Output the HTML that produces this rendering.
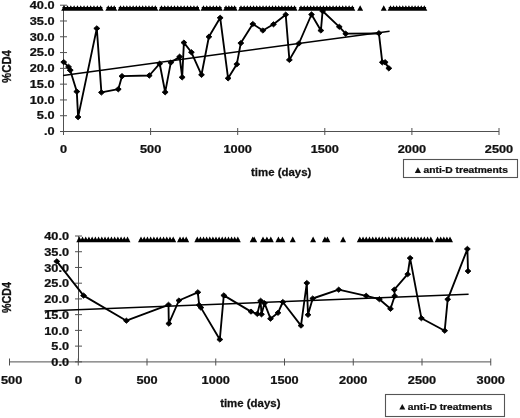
<!DOCTYPE html><html><head><meta charset="utf-8"><style>
html,body{margin:0;padding:0;background:#fff;}
svg{display:block;filter:grayscale(1);}
text{font-family:"Liberation Sans",sans-serif;font-weight:bold;fill:#111;stroke:#111;stroke-width:0.25px;}
</style></head><body>
<svg width="520" height="418" viewBox="0 0 520 418">
<rect width="520" height="418" fill="#fff"/>
<g stroke="#505050" stroke-width="1" fill="none">
<path d="M63.5 5.2V131.5"/>
<path d="M63.5 131.5H499.00"/>
<path d="M60 5.20H67"/>
<path d="M60 20.99H67"/>
<path d="M60 36.78H67"/>
<path d="M60 52.57H67"/>
<path d="M60 68.36H67"/>
<path d="M60 84.15H67"/>
<path d="M60 99.94H67"/>
<path d="M60 115.73H67"/>
<path d="M60 131.52H67"/>
<path d="M63.50 128V135"/>
<path d="M150.60 128V135"/>
<path d="M237.70 128V135"/>
<path d="M324.80 128V135"/>
<path d="M411.90 128V135"/>
<path d="M499.00 128V135"/>
</g>
<text transform="translate(54.50 8.95) scale(1.18 1)" text-anchor="end" font-size="10.8" >40.0</text>
<text transform="translate(54.50 24.74) scale(1.18 1)" text-anchor="end" font-size="10.8" >35.0</text>
<text transform="translate(54.50 40.53) scale(1.18 1)" text-anchor="end" font-size="10.8" >30.0</text>
<text transform="translate(54.50 56.32) scale(1.18 1)" text-anchor="end" font-size="10.8" >25.0</text>
<text transform="translate(54.50 72.11) scale(1.18 1)" text-anchor="end" font-size="10.8" >20.0</text>
<text transform="translate(54.50 87.90) scale(1.18 1)" text-anchor="end" font-size="10.8" >15.0</text>
<text transform="translate(54.50 103.69) scale(1.18 1)" text-anchor="end" font-size="10.8" >10.0</text>
<text transform="translate(54.50 119.48) scale(1.18 1)" text-anchor="end" font-size="10.8" >5.0</text>
<text transform="translate(54.50 135.27) scale(1.18 1)" text-anchor="end" font-size="10.8" >.0</text>
<text transform="translate(63.50 153.10) scale(1.18 1)" text-anchor="middle" font-size="10.8" >0</text>
<text transform="translate(150.60 153.10) scale(1.18 1)" text-anchor="middle" font-size="10.8" >500</text>
<text transform="translate(237.70 153.10) scale(1.18 1)" text-anchor="middle" font-size="10.8" >1000</text>
<text transform="translate(324.80 153.10) scale(1.18 1)" text-anchor="middle" font-size="10.8" >1500</text>
<text transform="translate(411.90 153.10) scale(1.18 1)" text-anchor="middle" font-size="10.8" >2000</text>
<text transform="translate(499.00 153.10) scale(1.18 1)" text-anchor="middle" font-size="10.8" >2500</text>
<text transform="translate(281.20 176.30) scale(1.06 1)" text-anchor="middle" font-size="10.8" >time (days)</text>
<text transform="translate(10.6 66.5) rotate(-90) scale(1 1.18)" text-anchor="middle" font-size="11.4">%CD4</text>
<rect x="403.5" y="159.5" width="114" height="18" fill="none" stroke="#555" stroke-width="1.1"/>
<path d="M414.8 173L417.9 167.2L421 173Z" fill="#111"/>
<text transform="translate(423.60 173.30) scale(1.18 1)" text-anchor="start" font-size="8.7" >anti-D treatments</text>
<path d="M63 75.4L389.6 31.3" stroke="#000" stroke-width="1.5" fill="none"/>
<path d="M63.7 62.1L68.6 66.9L70.2 70.2L76.8 91.6L78.1 117.1L96.8 28.4L101.4 92.4L118.3 89.2L122 76.2L149.3 75.5L159.7 63.7L165.2 92.2L170.8 62.6L179.6 56.7L182.2 77.3L183.9 42.6L191.4 52.3L201.5 74.8L208.9 36.8L220.2 17.8L228.1 78.3L236.8 64.2L240.8 43.1L252.8 24L262.9 30.5L273.5 24.3L285.7 14.7L289.4 59.9L298.9 43.5L311.5 14.5L320.9 30.5L322.6 11L339.3 26.8L345.7 33.7L378.9 33.3L382.3 62.3L385.1 62.3L388.8 68.3" stroke="#000" stroke-width="1.85" fill="none" stroke-linejoin="round"/>
<path d="M63.7 59.5L66.7 62.1L63.7 64.8L60.8 62.1ZM68.6 64.2L71.5 66.9L68.6 69.6L65.6 66.9ZM70.2 67.5L73.2 70.2L70.2 72.9L67.2 70.2ZM76.8 88.9L79.8 91.6L76.8 94.2L73.8 91.6ZM78.1 114.4L81.0 117.1L78.1 119.8L75.1 117.1ZM96.8 25.8L99.8 28.4L96.8 31.0L93.8 28.4ZM101.4 89.8L104.4 92.4L101.4 95.1L98.5 92.4ZM118.3 86.5L121.2 89.2L118.3 91.9L115.3 89.2ZM122.0 73.5L125.0 76.2L122.0 78.9L119.0 76.2ZM149.3 72.8L152.2 75.5L149.3 78.2L146.4 75.5ZM159.7 61.1L162.6 63.7L159.7 66.4L156.8 63.7ZM165.2 89.5L168.1 92.2L165.2 94.9L162.2 92.2ZM170.8 60.0L173.8 62.6L170.8 65.2L167.9 62.6ZM179.6 54.1L182.5 56.7L179.6 59.4L176.7 56.7ZM182.2 74.6L185.1 77.3L182.2 80.0L179.2 77.3ZM183.9 40.0L186.8 42.6L183.9 45.2L181.0 42.6ZM191.4 49.6L194.3 52.3L191.4 54.9L188.5 52.3ZM201.5 72.1L204.4 74.8L201.5 77.5L198.6 74.8ZM208.9 34.1L211.8 36.8L208.9 39.4L206.0 36.8ZM220.2 15.2L223.1 17.8L220.2 20.4L217.2 17.8ZM228.1 75.6L231.0 78.3L228.1 81.0L225.2 78.3ZM236.8 61.6L239.8 64.2L236.8 66.9L233.9 64.2ZM240.8 40.5L243.8 43.1L240.8 45.8L237.9 43.1ZM252.8 21.4L255.8 24.0L252.8 26.6L249.9 24.0ZM262.9 27.9L265.8 30.5L262.9 33.1L259.9 30.5ZM273.5 21.7L276.4 24.3L273.5 26.9L270.6 24.3ZM285.7 12.0L288.6 14.7L285.7 17.3L282.8 14.7ZM289.4 57.2L292.3 59.9L289.4 62.5L286.4 59.9ZM298.9 40.9L301.8 43.5L298.9 46.1L295.9 43.5ZM311.5 11.8L314.4 14.5L311.5 17.1L308.6 14.5ZM320.9 27.9L323.8 30.5L320.9 33.1L317.9 30.5ZM322.6 8.3L325.6 11.0L322.6 13.7L319.7 11.0ZM339.3 24.2L342.2 26.8L339.3 29.4L336.4 26.8ZM345.7 31.1L348.6 33.7L345.7 36.4L342.8 33.7ZM378.9 30.6L381.8 33.3L378.9 35.9L375.9 33.3ZM382.3 59.6L385.2 62.3L382.3 65.0L379.4 62.3ZM385.1 59.6L388.1 62.3L385.1 65.0L382.2 62.3ZM388.8 65.6L391.8 68.3L388.8 71.0L385.9 68.3Z" fill="#000" stroke="#000" stroke-width="0.9" stroke-linejoin="round"/>
<path d="M62.40 10.80V6.90H102.40V10.80ZM61.20 10.80L64.20 5.30L67.20 10.80ZM64.51 10.80L67.51 5.30L70.51 10.80ZM67.82 10.80L70.82 5.30L73.82 10.80ZM71.13 10.80L74.13 5.30L77.13 10.80ZM74.44 10.80L77.44 5.30L80.44 10.80ZM77.75 10.80L80.75 5.30L83.75 10.80ZM81.05 10.80L84.05 5.30L87.05 10.80ZM84.36 10.80L87.36 5.30L90.36 10.80ZM87.67 10.80L90.67 5.30L93.67 10.80ZM90.98 10.80L93.98 5.30L96.98 10.80ZM94.29 10.80L97.29 5.30L100.29 10.80ZM97.60 10.80L100.60 5.30L103.60 10.80ZM106.50 10.80V6.90H116.00V10.80ZM105.30 10.80L108.30 5.30L111.30 10.80ZM108.25 10.80L111.25 5.30L114.25 10.80ZM111.20 10.80L114.20 5.30L117.20 10.80ZM118.70 10.80V6.90H157.10V10.80ZM117.50 10.80L120.50 5.30L123.50 10.80ZM120.66 10.80L123.66 5.30L126.66 10.80ZM123.83 10.80L126.83 5.30L129.83 10.80ZM126.99 10.80L129.99 5.30L132.99 10.80ZM130.15 10.80L133.15 5.30L136.15 10.80ZM133.32 10.80L136.32 5.30L139.32 10.80ZM136.48 10.80L139.48 5.30L142.48 10.80ZM139.65 10.80L142.65 5.30L145.65 10.80ZM142.81 10.80L145.81 5.30L148.81 10.80ZM145.97 10.80L148.97 5.30L151.97 10.80ZM149.14 10.80L152.14 5.30L155.14 10.80ZM152.30 10.80L155.30 5.30L158.30 10.80ZM159.70 10.80V6.90H199.00V10.80ZM158.50 10.80L161.50 5.30L164.50 10.80ZM161.75 10.80L164.75 5.30L167.75 10.80ZM164.99 10.80L167.99 5.30L170.99 10.80ZM168.24 10.80L171.24 5.30L174.24 10.80ZM171.48 10.80L174.48 5.30L177.48 10.80ZM174.73 10.80L177.73 5.30L180.73 10.80ZM177.97 10.80L180.97 5.30L183.97 10.80ZM181.22 10.80L184.22 5.30L187.22 10.80ZM184.46 10.80L187.46 5.30L190.46 10.80ZM187.71 10.80L190.71 5.30L193.71 10.80ZM190.95 10.80L193.95 5.30L196.95 10.80ZM194.20 10.80L197.20 5.30L200.20 10.80ZM201.70 10.80V6.90H221.60V10.80ZM200.50 10.80L203.50 5.30L206.50 10.80ZM203.76 10.80L206.76 5.30L209.76 10.80ZM207.02 10.80L210.02 5.30L213.02 10.80ZM210.28 10.80L213.28 5.30L216.28 10.80ZM213.54 10.80L216.54 5.30L219.54 10.80ZM216.80 10.80L219.80 5.30L222.80 10.80ZM224.20 10.80V6.90H236.40V10.80ZM223.00 10.80L226.00 5.30L229.00 10.80ZM225.87 10.80L228.87 5.30L231.87 10.80ZM228.73 10.80L231.73 5.30L234.73 10.80ZM231.60 10.80L234.60 5.30L237.60 10.80ZM239.20 10.80V6.90H296.30V10.80ZM238.00 10.80L241.00 5.30L244.00 10.80ZM241.15 10.80L244.15 5.30L247.15 10.80ZM244.29 10.80L247.29 5.30L250.29 10.80ZM247.44 10.80L250.44 5.30L253.44 10.80ZM250.59 10.80L253.59 5.30L256.59 10.80ZM253.74 10.80L256.74 5.30L259.74 10.80ZM256.88 10.80L259.88 5.30L262.88 10.80ZM260.03 10.80L263.03 5.30L266.03 10.80ZM263.18 10.80L266.18 5.30L269.18 10.80ZM266.32 10.80L269.32 5.30L272.32 10.80ZM269.47 10.80L272.47 5.30L275.47 10.80ZM272.62 10.80L275.62 5.30L278.62 10.80ZM275.76 10.80L278.76 5.30L281.76 10.80ZM278.91 10.80L281.91 5.30L284.91 10.80ZM282.06 10.80L285.06 5.30L288.06 10.80ZM285.21 10.80L288.21 5.30L291.21 10.80ZM288.35 10.80L291.35 5.30L294.35 10.80ZM291.50 10.80L294.50 5.30L297.50 10.80ZM299.20 10.80V6.90H354.10V10.80ZM298.00 10.80L301.00 5.30L304.00 10.80ZM301.21 10.80L304.21 5.30L307.21 10.80ZM304.41 10.80L307.41 5.30L310.41 10.80ZM307.62 10.80L310.62 5.30L313.62 10.80ZM310.82 10.80L313.82 5.30L316.82 10.80ZM314.03 10.80L317.03 5.30L320.03 10.80ZM317.24 10.80L320.24 5.30L323.24 10.80ZM320.44 10.80L323.44 5.30L326.44 10.80ZM323.65 10.80L326.65 5.30L329.65 10.80ZM326.86 10.80L329.86 5.30L332.86 10.80ZM330.06 10.80L333.06 5.30L336.06 10.80ZM333.27 10.80L336.27 5.30L339.27 10.80ZM336.48 10.80L339.48 5.30L342.48 10.80ZM339.68 10.80L342.68 5.30L345.68 10.80ZM342.89 10.80L345.89 5.30L348.89 10.80ZM346.09 10.80L349.09 5.30L352.09 10.80ZM349.30 10.80L352.30 5.30L355.30 10.80ZM357.15 10.80L360.15 5.30L363.15 10.80ZM380.75 10.80L383.75 5.30L386.75 10.80ZM388.70 10.80V6.90H426.10V10.80ZM387.50 10.80L390.50 5.30L393.50 10.80ZM390.57 10.80L393.57 5.30L396.57 10.80ZM393.65 10.80L396.65 5.30L399.65 10.80ZM396.72 10.80L399.72 5.30L402.72 10.80ZM399.79 10.80L402.79 5.30L405.79 10.80ZM402.86 10.80L405.86 5.30L408.86 10.80ZM405.94 10.80L408.94 5.30L411.94 10.80ZM409.01 10.80L412.01 5.30L415.01 10.80ZM412.08 10.80L415.08 5.30L418.08 10.80ZM415.15 10.80L418.15 5.30L421.15 10.80ZM418.23 10.80L421.23 5.30L424.23 10.80ZM421.30 10.80L424.30 5.30L427.30 10.80Z" fill="#000"/>
<g stroke="#505050" stroke-width="1" fill="none">
<path d="M78.5 236.0V361.9"/>
<path d="M9.5 361.9H491.00"/>
<path d="M75 236.00H82"/>
<path d="M75 251.73H82"/>
<path d="M75 267.46H82"/>
<path d="M75 283.19H82"/>
<path d="M75 298.92H82"/>
<path d="M75 314.65H82"/>
<path d="M75 330.38H82"/>
<path d="M75 346.11H82"/>
<path d="M75 361.84H82"/>
<path d="M9.50 358.5V365.5"/>
<path d="M78.25 358.5V365.5"/>
<path d="M147.00 358.5V365.5"/>
<path d="M215.75 358.5V365.5"/>
<path d="M284.50 358.5V365.5"/>
<path d="M353.25 358.5V365.5"/>
<path d="M422.00 358.5V365.5"/>
<path d="M490.75 358.5V365.5"/>
</g>
<text transform="translate(69.00 240.20) scale(1.18 1)" text-anchor="end" font-size="10.8" >40.0</text>
<text transform="translate(69.00 255.93) scale(1.18 1)" text-anchor="end" font-size="10.8" >35.0</text>
<text transform="translate(69.00 271.66) scale(1.18 1)" text-anchor="end" font-size="10.8" >30.0</text>
<text transform="translate(69.00 287.39) scale(1.18 1)" text-anchor="end" font-size="10.8" >25.0</text>
<text transform="translate(69.00 303.12) scale(1.18 1)" text-anchor="end" font-size="10.8" >20.0</text>
<text transform="translate(69.00 318.85) scale(1.18 1)" text-anchor="end" font-size="10.8" >15.0</text>
<text transform="translate(69.00 334.58) scale(1.18 1)" text-anchor="end" font-size="10.8" >10.0</text>
<text transform="translate(69.00 350.31) scale(1.18 1)" text-anchor="end" font-size="10.8" >5.0</text>
<text transform="translate(69.00 366.04) scale(1.18 1)" text-anchor="end" font-size="10.8" >0.0</text>
<text transform="translate(1.00 384.10) scale(1.18 1)" text-anchor="start" font-size="10.8" >500</text>
<text transform="translate(78.25 384.10) scale(1.18 1)" text-anchor="middle" font-size="10.8" >0</text>
<text transform="translate(147.00 384.10) scale(1.18 1)" text-anchor="middle" font-size="10.8" >500</text>
<text transform="translate(215.75 384.10) scale(1.18 1)" text-anchor="middle" font-size="10.8" >1000</text>
<text transform="translate(284.50 384.10) scale(1.18 1)" text-anchor="middle" font-size="10.8" >1500</text>
<text transform="translate(353.25 384.10) scale(1.18 1)" text-anchor="middle" font-size="10.8" >2000</text>
<text transform="translate(422.00 384.10) scale(1.18 1)" text-anchor="middle" font-size="10.8" >2500</text>
<text transform="translate(490.75 384.10) scale(1.18 1)" text-anchor="middle" font-size="10.8" >3000</text>
<text transform="translate(250.30 406.50) scale(1.06 1)" text-anchor="middle" font-size="10.8" >time (days)</text>
<text transform="translate(10.9 297.6) rotate(-90) scale(1 1.257)" text-anchor="middle" font-size="10.7">%CD4</text>
<rect x="385.5" y="394.5" width="119" height="22" fill="none" stroke="#555" stroke-width="1.1"/>
<path d="M399.3 409.5L402.3 403.9L405.3 409.5Z" fill="#111"/>
<text transform="translate(407.80 409.80) scale(1.18 1)" text-anchor="start" font-size="8.7" >anti-D treatments</text>
<path d="M44.6 311.1L468.6 294.2" stroke="#000" stroke-width="1.5" fill="none"/>
<path d="M56.8 261.4L83.6 295.6L126.4 320.7L168.5 304.8L168.8 323.6L178.9 300.5L197.8 292.3L199.2 305.1L200.9 307.6L219.8 339.5L223.8 295.4L251 311.6L257.3 313.9L260.6 300.8L261.5 314.3L264.5 303.2L270.5 318.7L278 312.8L282.8 302L301 325.6L306.8 283L308 314.8L312.7 298.5L338.7 289.7L366.2 295.8L379.4 299.2L390.5 308.8L394.7 296L394.3 289.7L407.7 274.2L410.1 258.1L421.4 318.2L444.7 330.7L447.7 299.3L467.4 249L468 271.1" stroke="#000" stroke-width="1.85" fill="none" stroke-linejoin="round"/>
<path d="M56.8 258.8L59.8 261.4L56.8 264.0L53.8 261.4ZM83.6 293.0L86.5 295.6L83.6 298.2L80.6 295.6ZM126.4 318.1L129.3 320.7L126.4 323.3L123.5 320.7ZM168.5 302.2L171.4 304.8L168.5 307.4L165.6 304.8ZM168.8 321.0L171.8 323.6L168.8 326.2L165.9 323.6ZM178.9 297.9L181.8 300.5L178.9 303.1L176.0 300.5ZM197.8 289.7L200.8 292.3L197.8 294.9L194.9 292.3ZM199.2 302.5L202.1 305.1L199.2 307.8L196.2 305.1ZM200.9 305.0L203.8 307.6L200.9 310.2L198.0 307.6ZM219.8 336.9L222.8 339.5L219.8 342.1L216.9 339.5ZM223.8 292.8L226.8 295.4L223.8 298.0L220.9 295.4ZM251.0 309.0L253.9 311.6L251.0 314.2L248.1 311.6ZM257.3 311.2L260.2 313.9L257.3 316.5L254.4 313.9ZM260.6 298.2L263.6 300.8L260.6 303.4L257.7 300.8ZM261.5 311.7L264.4 314.3L261.5 316.9L258.6 314.3ZM264.5 300.6L267.4 303.2L264.5 305.8L261.6 303.2ZM270.5 316.1L273.4 318.7L270.5 321.3L267.6 318.7ZM278.0 310.2L280.9 312.8L278.0 315.4L275.1 312.8ZM282.8 299.4L285.8 302.0L282.8 304.6L279.9 302.0ZM301.0 323.0L303.9 325.6L301.0 328.2L298.1 325.6ZM306.8 280.4L309.8 283.0L306.8 285.6L303.9 283.0ZM308.0 312.2L310.9 314.8L308.0 317.4L305.1 314.8ZM312.7 295.9L315.6 298.5L312.7 301.1L309.8 298.5ZM338.7 287.1L341.6 289.7L338.7 292.3L335.8 289.7ZM366.2 293.2L369.1 295.8L366.2 298.4L363.2 295.8ZM379.4 296.6L382.3 299.2L379.4 301.8L376.4 299.2ZM390.5 306.2L393.4 308.8L390.5 311.4L387.6 308.8ZM394.7 293.4L397.6 296.0L394.7 298.6L391.8 296.0ZM394.3 287.1L397.2 289.7L394.3 292.3L391.4 289.7ZM407.7 271.6L410.6 274.2L407.7 276.8L404.8 274.2ZM410.1 255.5L413.1 258.1L410.1 260.8L407.2 258.1ZM421.4 315.6L424.3 318.2L421.4 320.8L418.4 318.2ZM444.7 328.1L447.6 330.7L444.7 333.3L441.8 330.7ZM447.7 296.7L450.6 299.3L447.7 301.9L444.8 299.3ZM467.4 246.3L470.3 249.0L467.4 251.7L464.4 249.0ZM468.0 268.5L470.9 271.1L468.0 273.8L465.1 271.1Z" fill="#000" stroke="#000" stroke-width="0.9" stroke-linejoin="round"/>
<path d="M77.50 242.20V239.20H129.30V242.20ZM76.30 242.20L79.30 236.50L82.30 242.20ZM79.51 242.20L82.51 236.50L85.51 242.20ZM82.73 242.20L85.73 236.50L88.73 242.20ZM85.94 242.20L88.94 236.50L91.94 242.20ZM89.15 242.20L92.15 236.50L95.15 242.20ZM92.37 242.20L95.37 236.50L98.37 242.20ZM95.58 242.20L98.58 236.50L101.58 242.20ZM98.79 242.20L101.79 236.50L104.79 242.20ZM102.01 242.20L105.01 236.50L108.01 242.20ZM105.22 242.20L108.22 236.50L111.22 242.20ZM108.43 242.20L111.43 236.50L114.43 242.20ZM111.65 242.20L114.65 236.50L117.65 242.20ZM114.86 242.20L117.86 236.50L120.86 242.20ZM118.07 242.20L121.07 236.50L124.07 242.20ZM121.29 242.20L124.29 236.50L127.29 242.20ZM124.50 242.20L127.50 236.50L130.50 242.20ZM139.20 242.20V239.20H175.00V242.20ZM138.00 242.20L141.00 236.50L144.00 242.20ZM141.22 242.20L144.22 236.50L147.22 242.20ZM144.44 242.20L147.44 236.50L150.44 242.20ZM147.66 242.20L150.66 236.50L153.66 242.20ZM150.88 242.20L153.88 236.50L156.88 242.20ZM154.10 242.20L157.10 236.50L160.10 242.20ZM157.32 242.20L160.32 236.50L163.32 242.20ZM160.54 242.20L163.54 236.50L166.54 242.20ZM163.76 242.20L166.76 236.50L169.76 242.20ZM166.98 242.20L169.98 236.50L172.98 242.20ZM170.20 242.20L173.20 236.50L176.20 242.20ZM178.20 242.20V239.20H188.00V242.20ZM177.00 242.20L180.00 236.50L183.00 242.20ZM180.10 242.20L183.10 236.50L186.10 242.20ZM183.20 242.20L186.20 236.50L189.20 242.20ZM195.50 242.20V239.20H239.60V242.20ZM194.30 242.20L197.30 236.50L200.30 242.20ZM197.42 242.20L200.42 236.50L203.42 242.20ZM200.53 242.20L203.53 236.50L206.53 242.20ZM203.65 242.20L206.65 236.50L209.65 242.20ZM206.76 242.20L209.76 236.50L212.76 242.20ZM209.88 242.20L212.88 236.50L215.88 242.20ZM212.99 242.20L215.99 236.50L218.99 242.20ZM216.11 242.20L219.11 236.50L222.11 242.20ZM219.22 242.20L222.22 236.50L225.22 242.20ZM222.34 242.20L225.34 236.50L228.34 242.20ZM225.45 242.20L228.45 236.50L231.45 242.20ZM228.57 242.20L231.57 236.50L234.57 242.20ZM231.68 242.20L234.68 236.50L237.68 242.20ZM234.80 242.20L237.80 236.50L240.80 242.20ZM249.70 242.20L252.70 236.50L255.70 242.20ZM251.20 242.20L254.20 236.50L257.20 242.20ZM261.20 242.20V239.20H272.60V242.20ZM260.00 242.20L263.00 236.50L266.00 242.20ZM263.90 242.20L266.90 236.50L269.90 242.20ZM267.80 242.20L270.80 236.50L273.80 242.20ZM276.60 242.20V239.20H284.20V242.20ZM275.40 242.20L278.40 236.50L281.40 242.20ZM279.40 242.20L282.40 236.50L285.40 242.20ZM289.75 242.20L292.75 236.50L295.75 242.20ZM310.10 242.20L313.10 236.50L316.10 242.20ZM323.10 242.20V239.20H329.20V242.20ZM321.90 242.20L324.90 236.50L327.90 242.20ZM324.40 242.20L327.40 236.50L330.40 242.20ZM340.10 242.20L343.10 236.50L346.10 242.20ZM358.00 242.20V239.20H432.60V242.20ZM356.80 242.20L359.80 236.50L362.80 242.20ZM360.03 242.20L363.03 236.50L366.03 242.20ZM363.25 242.20L366.25 236.50L369.25 242.20ZM366.48 242.20L369.48 236.50L372.48 242.20ZM369.71 242.20L372.71 236.50L375.71 242.20ZM372.94 242.20L375.94 236.50L378.94 242.20ZM376.16 242.20L379.16 236.50L382.16 242.20ZM379.39 242.20L382.39 236.50L385.39 242.20ZM382.62 242.20L385.62 236.50L388.62 242.20ZM385.85 242.20L388.85 236.50L391.85 242.20ZM389.07 242.20L392.07 236.50L395.07 242.20ZM392.30 242.20L395.30 236.50L398.30 242.20ZM395.53 242.20L398.53 236.50L401.53 242.20ZM398.75 242.20L401.75 236.50L404.75 242.20ZM401.98 242.20L404.98 236.50L407.98 242.20ZM405.21 242.20L408.21 236.50L411.21 242.20ZM408.44 242.20L411.44 236.50L414.44 242.20ZM411.66 242.20L414.66 236.50L417.66 242.20ZM414.89 242.20L417.89 236.50L420.89 242.20ZM418.12 242.20L421.12 236.50L424.12 242.20ZM421.35 242.20L424.35 236.50L427.35 242.20ZM424.57 242.20L427.57 236.50L430.57 242.20ZM427.80 242.20L430.80 236.50L433.80 242.20ZM435.80 242.20V239.20H451.80V242.20ZM434.60 242.20L437.60 236.50L440.60 242.20ZM437.70 242.20L440.70 236.50L443.70 242.20ZM440.80 242.20L443.80 236.50L446.80 242.20ZM443.90 242.20L446.90 236.50L449.90 242.20ZM447.00 242.20L450.00 236.50L453.00 242.20Z" fill="#000"/>
</svg></body></html>
